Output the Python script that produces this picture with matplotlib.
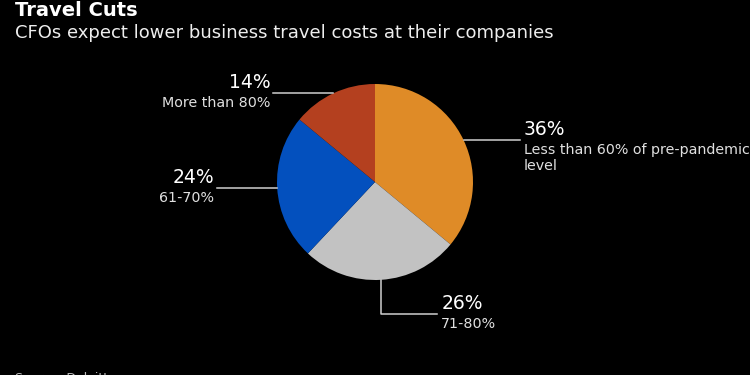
import numpy as np
import matplotlib
matplotlib.use('Agg')
import matplotlib.pyplot as plt

# dados
categorias = ['Less than 60% of pre-pandemic\nlevel', '71-80%', '61-70%', 'More than 80%']
valores = [36, 26, 24, 14]
cores = ['#DF8B27', '#C2C2C2', '#0350BE', '#B4401F']

fig = plt.figure(figsize=(7.5, 3.75), dpi=100, facecolor='black')
ax = fig.add_axes([0, 0, 1, 1])
ax.set_facecolor('black')
ax.set_xlim(0, 750)
ax.set_ylim(0, 375)
ax.set_aspect('equal')
ax.axis('off')

cx, cy, r = 375, 193, 98
wedges, _ = ax.pie(valores, colors=cores, startangle=90, counterclock=False,
                   center=(cx, cy), radius=r, wedgeprops=dict(linewidth=0))
ax.set_xlim(0, 750)
ax.set_ylim(0, 375)

linha = '#CFCFCF'
# leader lines: (comprimento horizontal, queda vertical)
guias = [(56, 0), (56, 34), (-60, 0), (-60, 0)]
acum = np.cumsum([0] + valores[:-1])
for i, v in enumerate(valores):
    ang = np.deg2rad((acum[i] + v / 2) / sum(valores) * 360)
    x0 = cx + r * np.sin(ang)
    y0 = cy + r * np.cos(ang)
    dx, dy = guias[i]
    if dy:
        ax.plot([x0, x0, x0 + dx], [y0, y0 - dy, y0 - dy], color=linha, lw=1.1)
    else:
        ax.plot([x0, x0 + dx], [y0, y0], color=linha, lw=1.1)
    xe, ye = x0 + dx, y0 - dy
    if dx > 0:
        xt, ha = xe + 4, 'left'
    else:
        xt, ha = xe - 3, 'right'
    ax.text(xt, ye + 1, f'{v}%', color='white', fontsize=13.5, ha=ha, va='bottom')
    ax.text(xt, ye - 3, categorias[i], color='#E0E0E0', fontsize=10.3, ha=ha, va='top',
            linespacing=1.15)

fig.text(15 / 750, 1 - 1 / 375, 'Travel Cuts', color='white', fontsize=14,
         fontweight='bold', ha='left', va='top')
fig.text(15 / 750, 1 - 24 / 375, 'CFOs expect lower business travel costs at their companies',
         color='#EEEEEE', fontsize=13, ha='left', va='top')
fig.text(15 / 750, 1 - 372 / 375, 'Source: Deloitte', color='#BBBBBB', fontsize=9,
         ha='left', va='top')

fig.savefig('out.png', dpi=100, facecolor='black')
